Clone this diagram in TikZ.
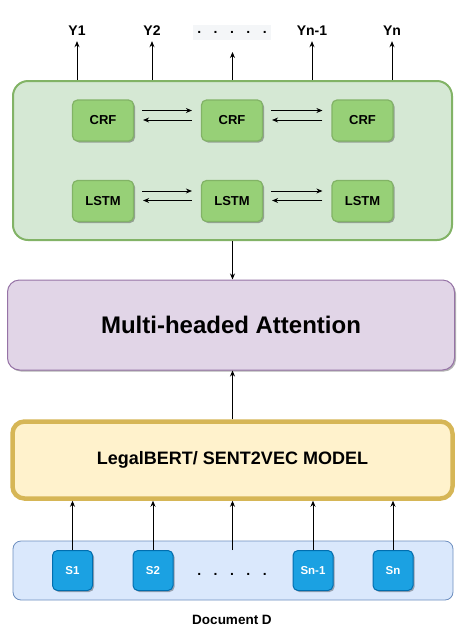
\documentclass[tikz,border=0pt]{standalone}
\usepackage{fontspec}
\setmainfont{Liberation Sans}
\usetikzlibrary{arrows.meta,shadows}
\definecolor{crfback}{HTML}{D5E8D4}
\definecolor{crfline}{HTML}{82B366}
\definecolor{cellfill}{HTML}{97D077}
\definecolor{attfill}{HTML}{E1D5E7}
\definecolor{attline}{HTML}{9673A6}
\definecolor{bertfill}{HTML}{FFF2CC}
\definecolor{bertline}{HTML}{D6B656}
\definecolor{docfill}{HTML}{DAE8FC}
\definecolor{docline}{HTML}{6C8EBF}
\definecolor{sentfill}{HTML}{1BA1E2}
\definecolor{sentline}{HTML}{006EAF}
\definecolor{dotback}{HTML}{F4F6F8}

\begin{document}
\begin{tikzpicture}[x=1pt, y=-1pt, inner sep=3pt,
		shade/.style={drop shadow={shadow xshift=1.5pt, shadow yshift=-1.5pt, opacity=0.3, fill=black}},
		cell/.style={draw=crfline, fill=cellfill, line width=1.2pt, rounded corners=5pt, minimum width=61pt, minimum height=41pt, font=\bfseries\fontsize{13}{15}\selectfont, shade},
		sent/.style={draw=sentline, fill=sentfill, text=white, line width=1pt, rounded corners=5pt, minimum width=40pt, minimum height=40pt, font=\bfseries\fontsize{11.5}{13}\selectfont, shade},
		ylab/.style={font=\bfseries\fontsize{14}{16}\selectfont, inner xsep=2pt, inner ysep=6pt, text height=10pt, text depth=0pt},
		conn/.style={line width=0.8pt, -{Stealth[length=6pt, width=5pt]}}]
	\useasboundingbox (0,0) rectangle (466,641);

	% bi-lstm / crf block
	\node[draw=crfline, fill=crfback, line width=2pt, rounded corners=15pt, minimum width=439pt, minimum height=159pt] (crfbox) at (232.5,160.5) {};
	\node[cell] (crf1) at (103,120.5) {CRF};
	\node[cell] (crf2) at (232,120.5) {CRF};
	\node[cell] (crf3) at (362.5,120.5) {CRF};
	\node[cell] (lstm1) at (103,201) {LSTM};
	\node[cell] (lstm2) at (232,201) {LSTM};
	\node[cell] (lstm3) at (362.5,201) {LSTM};

	\draw[conn] ([xshift=8pt, yshift=10pt]crf1.east) -- ([xshift=-9pt, yshift=10pt]crf2.west);
	\draw[conn] ([xshift=-9pt, yshift=0.5pt]crf2.west) -- ([xshift=9pt, yshift=0.5pt]crf1.east);
	\draw[conn] ([xshift=8pt, yshift=10pt]crf2.east) -- ([xshift=-9pt, yshift=10pt]crf3.west);
	\draw[conn] ([xshift=-9pt, yshift=0.5pt]crf3.west) -- ([xshift=9pt, yshift=0.5pt]crf2.east);
	\draw[conn] ([xshift=8pt, yshift=10pt]lstm1.east) -- ([xshift=-9pt, yshift=10pt]lstm2.west);
	\draw[conn] ([xshift=-9pt, yshift=0.5pt]lstm2.west) -- ([xshift=9pt, yshift=0.5pt]lstm1.east);
	\draw[conn] ([xshift=8pt, yshift=10pt]lstm2.east) -- ([xshift=-9pt, yshift=10pt]lstm3.west);
	\draw[conn] ([xshift=-9pt, yshift=0.5pt]lstm3.west) -- ([xshift=9pt, yshift=0.5pt]lstm2.east);

	% outputs
	\node[ylab] (y1) at (77,30) {Y1};
	\node[ylab] (y2) at (152,30) {Y2};
	\node[ylab] (yn1) at (312,30) {Yn-1};
	\node[ylab] (yn) at (392,30) {Yn};
	\node[fill=dotback, font=\bfseries\fontsize{14}{16}\selectfont, inner xsep=4pt, inner ysep=2.5pt, text height=6pt, text depth=4pt] (ydots) at (232,32) {.\hspace{12.5pt}.\hspace{12.5pt}.\hspace{12.5pt}.\hspace{12.5pt}.};
	\coordinate (ymid) at (232.5,52);

	\draw[conn] (y1 |- crfbox.north) -- (y1);
	\draw[conn] (y2 |- crfbox.north) -- (y2);
	\draw[conn] (crfbox.north) -- (ymid);
	\draw[conn] (yn1 |- crfbox.north) -- (yn1);
	\draw[conn] (yn |- crfbox.north) -- (yn);

	% attention and embedding
	\node[draw=attline, fill=attfill, line width=1pt, rounded corners=12pt, minimum width=447pt, minimum height=90pt, font=\bfseries\fontsize{24}{28}\selectfont, shade] (attn) at (231,325) {Multi-headed Attention};
	\node[draw=bertline, fill=bertfill, line width=4.5pt, rounded corners=12pt, minimum width=440pt, minimum height=77pt, font=\bfseries\fontsize{18}{21}\selectfont] (bert) at (232.5,460) {LegalBERT/ SENT2VEC MODEL};
	\coordinate (attntop) at (crfbox.south |- attn.north);

	\draw[conn] (crfbox.south) -- (attntop);
	\draw[conn] (attntop |- bert.north) -- (attntop |- attn.south);

	% document sentences
	\node[draw=docline, fill=docfill, line width=0.8pt, rounded corners=8pt, minimum width=440pt, minimum height=59pt] (doc) at (233,570.5) {};
	\node[sent] (s1) at (72.5,570.5) {S1};
	\node[sent] (s2) at (153,570.5) {S2};
	\node[sent] (sn1) at (313,570.5) {Sn-1};
	\node[sent] (sn) at (393,570.5) {Sn};
	\node[font=\bfseries\fontsize{14}{16}\selectfont] (sdots) at (232,574) {.\hspace{12.5pt}.\hspace{12.5pt}.\hspace{12.5pt}.\hspace{12.5pt}.};
	\coordinate (smid) at (232.5,550);
	\node[font=\bfseries\fontsize{13.5}{16}\selectfont] (docname) at (232,620) {Document D};

	\draw[conn] (s1) -- (s1 |- bert.south);
	\draw[conn] (s2) -- (s2 |- bert.south);
	\draw[conn] (smid) -- (smid |- bert.south);
	\draw[conn] (sn1) -- (sn1 |- bert.south);
	\draw[conn] (sn) -- (sn |- bert.south);
\end{tikzpicture}
\end{document}
